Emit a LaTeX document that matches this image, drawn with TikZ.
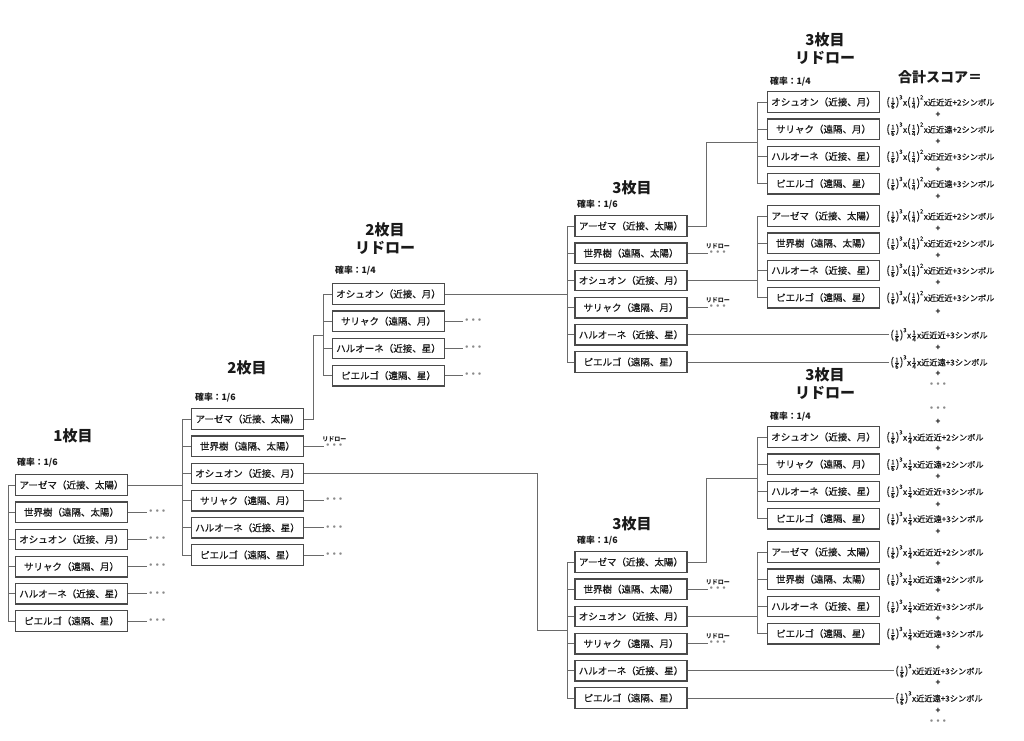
\documentclass[tikz,border=0pt]{standalone}
\usepackage{fontspec}
\usepackage{amsmath}
\setmainfont{Noto Sans CJK JP}
\newfontfamily\medfont[FakeBold=0.5]{Noto Sans CJK JP}
\definecolor{boxc}{HTML}{4A4A4A}
\definecolor{linec}{HTML}{6A6A6A}
\definecolor{txt}{HTML}{1A1A1A}
\definecolor{dotc}{HTML}{8A8A8A}
\newcommand\nm[1]{\text{\fontsize{6.3}{6.3}\selectfont #1}}
\newcommand\lp{\text{\fontsize{10.5}{10}\selectfont(}}
\newcommand\rp{\text{\fontsize{10.5}{10}\selectfont)}}
\newcommand\mypw[3]{\ensuremath{\lp\frac{\nm{#1}}{\nm{#2}}\rp^{\text{#3}}}}
\newcommand\myfr[2]{\ensuremath{\frac{\nm{#1}}{\nm{#2}}}}
\newcommand\fmA[1]{\mypw{1}{6}{3}x\mypw{1}{4}{2}x#1}
\newcommand\fmB[1]{\mypw{1}{6}{3}x\myfr{1}{4}x#1}
\newcommand\fmC[1]{\mypw{1}{6}{3}x#1}
\newcommand\threedots{・\kern-2.6pt・\kern-2.6pt・}
\def\six{az/アーゼマ（近接、太陽）,sk/世界樹（遠隔、太陽）,os/オシュオン（近接、月）,sr/サリャク（遠隔、月）,ha/ハルオーネ（近接、星）,pi/ピエルゴ（遠隔、星）}
\def\fourA{os/オシュオン（近接、月）,sr/サリャク（遠隔、月）,ha/ハルオーネ（近接、星）,pi/ピエルゴ（遠隔、星）}
\def\fourB{az/アーゼマ（近接、太陽）,sk/世界樹（遠隔、太陽）,ha/ハルオーネ（近接、星）,pi/ピエルゴ（遠隔、星）}
% #1 prefix, #2 x centre, #3 first y, #4 bracket x, #5 list, #6 first name
\newcommand\mkcol[6]{%
  \coordinate (#1-br) at (#4,0);
  \foreach \n/\t [count=\i from 0] in #5 {
    \node[bx] (#1-\n) at (#2,#3+27.2*\i) {\t};
    \draw[cn] (#1-br |- #1-\n.west) -- (#1-\n.west);
  }
  \draw[cn] (#1-br |- #1-#6.west) -- (#1-br |- #1-pi.west);
}
\newcommand\trail[2]{\node[dts] (#1-d) at ([xshift=#2pt]#1.east) {\threedots};\draw[cn] (#1.east) -- ([xshift=1pt]#1-d.west);}
\newcommand\trailr[2]{\trail{#1}{#2}\node[rdl] (#1-r) at ([yshift=7pt]#1-d.center) {リドロー};}
\newcommand\fmbox[2]{\node[fm,anchor=west] (#1-f) at ([xshift=5pt]#1.east) {#2};}
\newcommand\fmline[2]{\node[fm] (#1-f) at (939,0 |- #1.east) {#2};\draw[cn] (#1.east) -- (#1-f.west);}
\begin{document}
\begin{tikzpicture}[x=1pt,y=-1pt,
  bx/.style={draw=boxc, line width=1.3pt, fill=white, minimum width=112pt, minimum height=20.5pt, inner sep=0pt, font=\medfont\fontsize{9.5}{10}\selectfont, text=txt},
  cn/.style={draw=linec, line width=0.9pt},
  ttl/.style={font=\fontsize{15}{18}\selectfont\bfseries, text=txt, align=center, inner sep=0pt},
  prob/.style={font=\fontsize{8.8}{10}\selectfont\bfseries, text=txt, anchor=west, inner sep=0pt},
  dts/.style={font=\fontsize{9}{9}\selectfont\bfseries, text=dotc, inner sep=0pt, anchor=west},
  rdl/.style={font=\fontsize{6}{7}\selectfont\bfseries, text=txt, inner sep=0pt},
  fm/.style={font=\medfont\fontsize{8.2}{10}\selectfont, text=txt, inner sep=1pt},
  pl/.style={font=\fontsize{8}{8}\selectfont\bfseries, text=txt, inner sep=0pt},
]
\useasboundingbox[fill=white] (0,0) rectangle (1024,740);
% titles
\node[ttl] (t1) at (73,436) {1枚目};
\node[ttl] (t2) at (247,368) {2枚目};
\node[ttl] (t2r) at (385,239) {2枚目\\リドロー};
\node[ttl] (t3a) at (632,188) {3枚目};
\node[ttl] (t3ar) at (825,49) {3枚目\\リドロー};
\node[ttl] (t3b) at (632,524) {3枚目};
\node[ttl] (t3br) at (825,384) {3枚目\\リドロー};
\node[ttl, font=\fontsize{14}{16}\selectfont\bfseries] (sum) at (940,77) {合計スコア＝};
% probabilities
\node[prob] (p1) at (17,463) {確率：1/6};
\node[prob] (p2) at (195,398) {確率：1/6};
\node[prob] (p2r) at (335,271) {確率：1/4};
\node[prob] (p3a) at (577,205) {確率：1/6};
\node[prob] (p3ar) at (770,82) {確率：1/4};
\node[prob] (p3b) at (577,541) {確率：1/6};
\node[prob] (p3br) at (770,417) {確率：1/4};
% columns
\mkcol{A}{71.5}{485}{8}{\six}{az}
\mkcol{B}{247.5}{419}{182}{\six}{az}
\mkcol{C}{388.5}{294}{323}{\fourA}{os}
\mkcol{D}{631}{226}{567}{\six}{az}
\mkcol{E}{823.5}{102}{757}{\fourA}{os}
\mkcol{F}{823.5}{216}{757}{\fourB}{az}
\mkcol{G}{631}{562}{567}{\six}{az}
\mkcol{H}{823.5}{437}{757}{\fourA}{os}
\mkcol{I}{823.5}{552}{757}{\fourB}{az}
% connectors between columns
\draw[cn] (A-az.east) -- (A-az.east -| B-br);
\coordinate (kBC) at (313,335);
\draw[cn] (B-az.east) -| (kBC) -- (kBC -| C-br);
\draw[cn] (C-os.east) -- (C-os.east -| D-br);
\coordinate (kDE) at (706,142);
\draw[cn] (D-az.east) -| (kDE) -- (kDE -| E-br);
\draw[cn] (D-os.east) -- (D-os.east -| F-br);
\coordinate (kBG) at (537,630);
\draw[cn] (B-os.east) -| (kBG) -- (kBG -| G-br);
\coordinate (kGH) at (706,478);
\draw[cn] (G-az.east) -| (kGH) -- (kGH -| H-br);
\draw[cn] (G-os.east) -- (G-os.east -| I-br);
% trailing dots
\trail{A-sk}{18}\trail{A-os}{18}\trail{A-sr}{18}\trail{A-ha}{18}\trail{A-pi}{18}
\trailr{B-sk}{19}\trail{B-sr}{19}\trail{B-ha}{19}\trail{B-pi}{19}
\trail{C-sr}{17}\trail{C-ha}{17}\trail{C-pi}{17}
\trailr{D-sk}{19}\trailr{D-sr}{19}
\trailr{G-sk}{19}\trailr{G-sr}{19}
% formulas
\fmbox{E-os}{\fmA{近近近+2シンボル}}
\fmbox{E-sr}{\fmA{近近遠+2シンボル}}
\fmbox{E-ha}{\fmA{近近近+3シンボル}}
\fmbox{E-pi}{\fmA{近近遠+3シンボル}}
\fmbox{F-az}{\fmA{近近近+2シンボル}}
\fmbox{F-sk}{\fmA{近近近+2シンボル}}
\fmbox{F-ha}{\fmA{近近近+3シンボル}}
\fmbox{F-pi}{\fmA{近近近+3シンボル}}
\fmline{D-ha}{\fmB{近近近+3シンボル}}
\fmline{D-pi}{\fmB{近近遠+3シンボル}}
\fmbox{H-os}{\fmB{近近近+2シンボル}}
\fmbox{H-sr}{\fmB{近近遠+2シンボル}}
\fmbox{H-ha}{\fmB{近近近+3シンボル}}
\fmbox{H-pi}{\fmB{近近遠+3シンボル}}
\fmbox{I-az}{\fmB{近近近+2シンボル}}
\fmbox{I-sk}{\fmB{近近遠+2シンボル}}
\fmbox{I-ha}{\fmB{近近近+3シンボル}}
\fmbox{I-pi}{\fmB{近近遠+3シンボル}}
\fmline{G-ha}{\fmC{近近近+3シンボル}}
\fmline{G-pi}{\fmC{近近遠+3シンボル}}
% plus signs
\foreach \y [count=\k] in {115,142,170,197,229,256,283,312,348,374,422,449,477,505,532,564,591,619,648,683,711}
  \node[pl] (plus\k) at (938,\y) {+};
\node[dts,anchor=center] (md1) at (938,385) {\threedots};
\node[dts,anchor=center] (md2) at (938,409) {\threedots};
\node[dts,anchor=center] (md3) at (938,722) {\threedots};
\end{tikzpicture}
\end{document}
